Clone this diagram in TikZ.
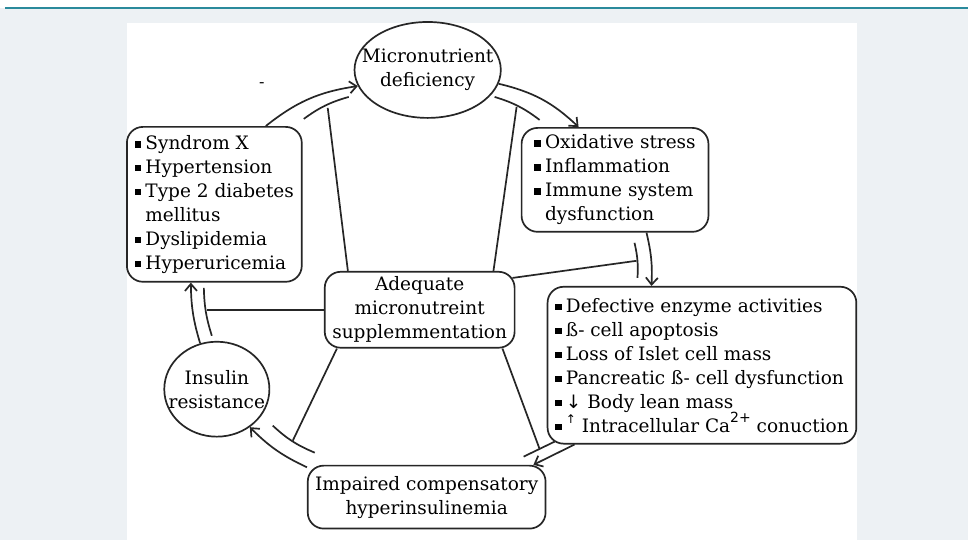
\documentclass[tikz,border=0pt]{standalone}
\usepackage{fontspec}
\setmainfont{DejaVu Serif}
\newfontfamily\symfont{DejaVu Sans}
\usetikzlibrary{shapes,arrows.meta,positioning}
\definecolor{pagegray}{HTML}{EDF1F4}
\definecolor{rulecol}{HTML}{2A8A9C}
\newcommand{\sqb}{\rule[0.1em]{0.36em}{0.36em}\hspace{0.22em}}

\begin{document}
\begin{tikzpicture}[x=1pt, y=1pt, line width=1.7pt, draw=black!85,
 box/.style={draw, rounded corners=16pt, inner sep=0pt, align=left, txt},
 oval/.style={draw, ellipse, inner sep=0pt, align=center, txt},
 txt/.style={font=\fontsize{18.5}{24}\selectfont},
 arr/.style={-{Straight Barb[length=7pt,width=12pt]}}]

% page
\fill[pagegray] (0,0) rectangle (969,-540);
\fill[white] (0,0) rectangle (969,-8);
\draw[rulecol, line width=1.5pt] (5,-8) -- (969,-8);
\fill[white] (127,-23) rectangle (858,-540);
\useasboundingbox (0,0) rectangle (969,-540);

% nodes
\node[oval, inner xsep=-14pt, minimum width=142pt, minimum height=96pt] (micro) at (428,-70) {Micronutrient\\deficiency};
\node[box, minimum width=175pt, minimum height=155pt] (risk) at (214.5,-204.5)
 {\sqb Syndrom X\\ \sqb Hypertension\\ \sqb Type 2 diabetes\\ \phantom{\sqb}mellitus\\ \sqb Dyslipidemia\\ \sqb Hyperuricemia};
\node[box, minimum width=187pt, minimum height=104pt] (stress) at (615.5,-180)
 {\sqb Oxidative stress\\ \sqb Inflammation\\ \sqb Immune system\\ \phantom{\sqb}dysfunction};
\node[box, align=center, minimum width=190pt, minimum height=76pt] (supp) at (420,-310)
 {Adequate\\micronutreint\\supplemmentation};
\node[box, minimum width=309pt, minimum height=157pt] (beta) at (702.5,-365.5)
 {\sqb Defective enzyme activities\\ \sqb ß- cell apoptosis\\ \sqb Loss of Islet cell mass\\
  \sqb Pancreatic ß- cell dysfunction\\ \sqb{\symfont ↓} Body lean mass\\
  \sqb\raisebox{0.45em}{\symfont\fontsize{12}{12}\selectfont ↑} Intracellular Ca\raisebox{0.5em}{\symfont\fontsize{14}{14}\selectfont 2+} conuction};
\node[oval, inner xsep=-11pt, minimum width=105pt, minimum height=95pt] (insulin) at (217,-389.5) {Insulin\\resistance};
\node[box, align=center, minimum width=238pt, minimum height=63pt] (hyper) at (427,-497.5)
 {Impaired compensatory\\hyperinsulinemia};
\node[font=\fontsize{16}{16}\selectfont, inner sep=0pt] (dash) at (262,-85) {-};

% inhibition bars
\coordinate (barA1) at (304,-119); \coordinate (barA2) at (349,-97); \coordinate (tA) at (328,-108);
\coordinate (barB1) at (495,-97); \coordinate (barB2) at (540,-120); \coordinate (tB) at (517,-107);
\coordinate (barC1) at (635,-243); \coordinate (barC2) at (638,-278); \coordinate (tC) at (637,-261);
\coordinate (barD1) at (555,-442); \coordinate (barD2) at (524,-457); \coordinate (tD) at (540,-449.3);
\coordinate (barE1) at (273,-426); \coordinate (barE2) at (315,-453); \coordinate (tE) at (293,-441);
\coordinate (barF1) at (212,-336); \coordinate (barF2) at (204,-288); \coordinate (tF) at (207.5,-310);

\draw (barA1) to[bend left=10] (barA2);
\draw (barB1) to[bend left=10] (barB2);
\draw (barC1) to[bend left=8] (barC2);
\draw (barD1) -- (barD2);
\draw (barE1) to[bend right=10] (barE2);
\draw (barF1) to[bend left=8] (barF2);

\draw ([xshift=24pt]supp.north west) -- (tA);
\draw ([xshift=-22pt]supp.north east) -- (tB);
\draw ([xshift=-3pt,yshift=-7pt]supp.north east) -- (tC);
\draw ([xshift=-13pt]supp.south east) -- (tD);
\draw ([xshift=13pt]supp.south west) -- (tE);
\draw (supp.west) -- (tF);

% cycle
\draw[arr] ([xshift=51.5pt]risk.north) to[bend left=15] (micro.193);
\draw[arr] (micro.349) to[bend left=15] ([xshift=-36.5pt]stress.north);
\draw[arr] ([xshift=31.5pt]stress.south) to[bend left=8] ([xshift=-50.5pt]beta.north);
\draw[arr] ([xshift=-127.5pt]beta.south) -- ([xshift=-13pt]hyper.north east);
\draw[arr] (hyper.166) to[bend left=10] (insulin.311);
\draw[arr] (insulin.110) to[bend left=8] ([xshift=-23.5pt]risk.south);
\end{tikzpicture}
\end{document}
